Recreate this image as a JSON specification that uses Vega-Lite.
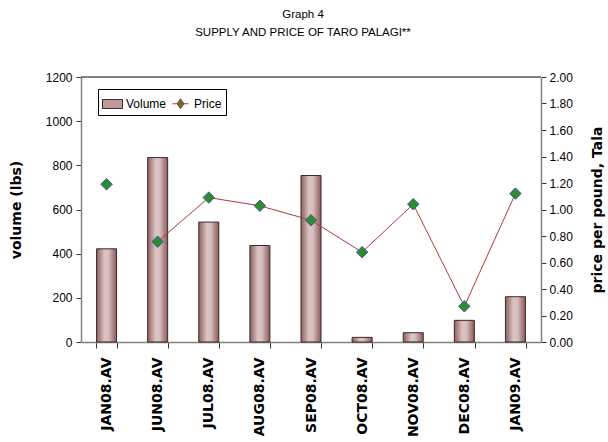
{
  "$schema": "https://vega.github.io/schema/vega-lite/v6.json",
  "width": 460,
  "height": 265,
  "autosize": "none",
  "padding": {"left": 81, "top": 77, "right": 67, "bottom": 100},
  "background": "white",
  "config": {"view": {"stroke": null}},
  "title": {
    "text": ["Graph 4", "SUPPLY AND PRICE OF TARO PALAGI**"],
    "font": "Liberation Sans",
    "fontSize": 11.5,
    "fontWeight": "normal",
    "lineHeight": 18,
    "offset": 33,
    "anchor": "middle",
    "frame": "group",
    "dx": -8,
    "color": "black"
  },
  "data": {
    "values": [
      {"month": "JAN08.AV", "volume": 422, "price": 1.19},
      {"month": "JUN08.AV", "volume": 835, "price": 0.757},
      {"month": "JUL08.AV", "volume": 543, "price": 1.09},
      {"month": "AUG08.AV", "volume": 437, "price": 1.028},
      {"month": "SEP08.AV", "volume": 754, "price": 0.919},
      {"month": "OCT08.AV", "volume": 21, "price": 0.678},
      {"month": "NOV08.AV", "volume": 42, "price": 1.04},
      {"month": "DEC08.AV", "volume": 98, "price": 0.269},
      {"month": "JAN09.AV", "volume": 205, "price": 1.12}
    ]
  },
  "encoding": {
    "x": {
      "field": "month",
      "type": "nominal",
      "sort": null,
      "scale": {"paddingInner": 0.6, "paddingOuter": 0.3},
      "axis": {
        "title": null,
        "labelAngle": -90,
        "labelFont": "DejaVu Sans",
        "labelFontWeight": "bold",
        "labelFontSize": 14,
        "labelColor": "black",
        "labelPadding": 9,
        "tickBand": "extent",
        "tickSize": 6,
        "tickColor": "#333",
        "domainColor": "#808080",
        "domainWidth": 1.5
      }
    }
  },
  "layer": [
    {
      "mark": {
        "type": "bar",
        "size": 20,
        "fill": {
          "gradient": "linear",
          "x1": 0, "x2": 1, "y1": 0, "y2": 0,
          "stops": [
            {"offset": 0, "color": "#8e5e5e"},
            {"offset": 0.4, "color": "#dcc4c4"},
            {"offset": 0.6, "color": "#d8bebe"},
            {"offset": 1, "color": "#8a5858"}
          ]
        },
        "stroke": "#3a2a2a",
        "strokeWidth": 1
      },
      "encoding": {
        "y": {
          "field": "volume",
          "type": "quantitative",
          "scale": {"domain": [0, 1200], "nice": false},
          "axis": {
            "title": "volume (lbs)",
            "titleFont": "DejaVu Sans",
            "titleFontWeight": "bold",
            "titleFontSize": 14,
            "titleColor": "black",
            "titlePadding": 22,
            "values": [0, 200, 400, 600, 800, 1000, 1200],
            "format": "d",
            "labelFont": "Liberation Sans",
            "labelFontSize": 12,
            "labelColor": "black",
            "labelPadding": 4,
            "tickSize": 5,
            "tickColor": "#333",
            "domainColor": "#808080",
            "domainWidth": 1.5,
            "grid": false
          }
        }
      }
    },
    {
      "transform": [{"filter": "datum.month !== 'JAN08.AV'"}],
      "mark": {"type": "line", "strokeWidth": 1},
      "encoding": {
        "y": {
          "field": "price",
          "type": "quantitative",
          "scale": {"domain": [0, 2], "nice": false},
          "axis": null
        },
        "stroke": {
          "datum": "Price",
          "type": "nominal",
          "scale": {"domain": ["Volume", "Price"], "range": ["#3a2a2a", "#b03a3a"]},
          "legend": {
            "title": null,
            "orient": "none",
            "legendX": 17,
            "legendY": 12,
            "direction": "horizontal",
            "strokeColor": "black",
            "fillColor": "white",
            "padding": 4,
            "labelFont": "Liberation Sans",
            "labelFontSize": 12,
            "labelColor": "black",
            "labelOffset": 3,
            "columnPadding": 3,
            "symbolSize": 400,
            "symbolStrokeWidth": 1,
            "symbolOffset": 0,
            "encode": {
              "symbols": {
                "update": {
                  "shape": {"signal": "datum.value === 'Price' ? 'M-0.8,0H0.8M0,-0.5L0.35,0L0,0.5L-0.35,0Z' : 'M-1,-0.45H1V0.45H-1Z'"},
                  "fill": {"signal": "datum.value === 'Price' ? '#2e8b2e' : '#c09a9a'"},
                  "stroke": {"signal": "datum.value === 'Price' ? '#b03a3a' : '#3a2a2a'"},
                  "strokeWidth": {"value": 1}
                }
              }
            }
          }
        }
      }
    },
    {
      "mark": {"type": "point", "shape": "diamond", "filled": true, "fill": "#2e8b2e", "stroke": "#3a5aa8", "strokeWidth": 1, "size": 130, "opacity": 1},
      "encoding": {
        "y": {
          "field": "price",
          "type": "quantitative",
          "scale": {"domain": [0, 2], "nice": false},
          "axis": {
            "orient": "right",
            "title": "price per pound, Tala",
            "titleAngle": -90,
            "titleFont": "DejaVu Sans",
            "titleFontWeight": "bold",
            "titleFontSize": 14,
            "titleColor": "black",
            "titlePadding": 32,
            "values": [0, 0.2, 0.4, 0.6, 0.8, 1.0, 1.2, 1.4, 1.6, 1.8, 2.0],
            "format": ".2f",
            "labelFont": "Liberation Sans",
            "labelFontSize": 12,
            "labelColor": "black",
            "labelPadding": 3,
            "tickSize": 5,
            "tickColor": "#333",
            "domainColor": "#808080",
            "domainWidth": 1.5,
            "grid": false
          }
        }
      }
    },
    {
      "mark": {"type": "rule", "color": "#808080", "strokeWidth": 1},
      "encoding": {
        "x": null,
        "y": {"datum": 1200, "type": "quantitative", "scale": {"domain": [0, 1200], "nice": false}, "axis": null}
      }
    }
  ],
  "resolve": {"scale": {"y": "independent"}}
}
